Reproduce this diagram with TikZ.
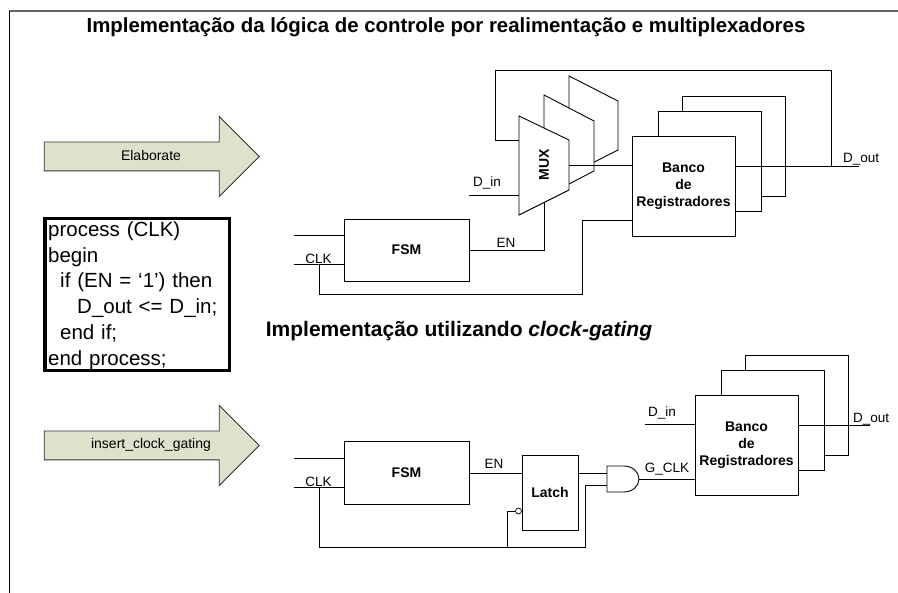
\documentclass[tikz,border=0pt]{standalone}
\usepackage{fontspec}
\setmainfont{Liberation Sans}
\usetikzlibrary{shapes.arrows}

\tikzset{
  wire/.style={line width=0.9pt},
  caixa/.style={draw, line width=0.9pt, fill=white, minimum width=103pt, minimum height=100pt, inner sep=0pt},
  bloco/.style={draw, line width=0.9pt, fill=white, inner sep=0pt, font=\fontsize{14}{17}\selectfont\bfseries, align=center},
  sinal/.style={inner sep=0pt, font=\fontsize{13.5}{16}\selectfont},
  seta/.style={single arrow, draw=black!80, line width=0.8pt, fill=seta, single arrow head extend=25.5pt, single arrow tip angle=90, minimum width=79pt, minimum height=215pt, inner xsep=0pt, inner ysep=8pt, text height=9pt, text depth=3pt},
  rotulo/.style={inner sep=0pt, font=\fontsize{14}{16}\selectfont},
  titulo/.style={inner sep=0pt, font=\fontsize{20.4}{24}\selectfont\bfseries}
}
\definecolor{seta}{HTML}{DDE2CD}

\begin{document}
\begin{tikzpicture}[x=1pt,y=-1pt]
  \useasboundingbox (0,0) rectangle (898,593);
  \fill[white] (0,0) rectangle (898,593);

  % Margin
  \coordinate (margemA) at (9,11);
  \coordinate (margemB) at (9,593);
  \coordinate (margemC) at (898,11);
  \draw[line width=1.2pt, black!60] (margemA) -- (margemC);
  \draw[wire] (margemA) -- (margemB);

  % Titles
  \node[titulo] (tituloA) at (446,27) {Implementação da lógica de controle por realimentação e multiplexadores};
  \node[titulo, font=\fontsize{21}{24}\selectfont\bfseries] (tituloB) at (459,331) {Implementação utilizando \textit{clock-gating}};

  % Arrows
  \node[seta] (setaA) at (144.5,156.5) {};
  \node[seta] (setaB) at (144.5,445.5) {};
  \node[rotulo] (rotuloA) at (151,156) {Elaborate};
  \node[rotulo] (rotuloB) at (151,445) {insert\_clock\_gating};

  % Code
  \node[draw, line width=3.5pt, minimum width=184.5pt, minimum height=152pt, inner sep=0pt, text width=178pt, align=left,
        font=\fontsize{20.5}{25.8}\selectfont] (codigo) at (137.2,294.5)
    {\rule{0pt}{17pt}process (CLK)\\
     begin\\
     \hspace*{12pt}if (EN = ‘1’) then\\
     \hspace*{29pt}D\_out <= D\_in;\\
     \hspace*{12pt}end if;\\
     end process;};

  % Top circuit: mux copies
  \draw[wire, fill=white] (569,76) -- (618,101) -- (618,150) -- (569,175) -- cycle;
  \draw[wire, fill=white] (544,95) -- (594,121) -- (594,171) -- (544,197) -- cycle;
  \draw[wire, fill=white] (519,116) -- (569,140) -- (569,190) -- (519,215) -- cycle;
  \node[sinal, rotate=90, font=\fontsize{14}{17}\selectfont\bfseries] (mux) at (544,165) {MUX};
  \coordinate (muxFb) at (519,140);
  \coordinate (muxIn) at (519,195);
  \coordinate (muxEn) at (544,203);
  \coordinate (muxOut) at (569,165);

  % Top circuit: registers
  \node[caixa] (bancoC) at (733.5,146) {};
  \node[caixa] (bancoB) at (709.5,161) {};
  \node[bloco, minimum width=103pt, minimum height=100pt] (bancoA) at (683.5,186) {Banco\\de\\Registradores};
  \node[bloco, minimum width=125pt, minimum height=62pt] (fsmA) at (406.5,250) {FSM};

  % Top circuit: wires
  \coordinate (dinA) at (469,195);
  \coordinate (topA) at (294,235);
  \coordinate (clkA) at (294,264);
  \coordinate (tapA) at (319,264);
  \coordinate (doutA) at (859,166);
  \coordinate (fbA) at (831,166);
  \draw[wire] (topA) -- (topA -| fsmA.west);
  \draw[wire] (clkA) -- (clkA -| fsmA.west);
  \draw[wire] (fsmA.east) -| (muxEn);
  \draw[wire] (dinA) -- (muxIn);
  \draw[wire] (muxOut) -- (muxOut -| bancoA.west);
  \draw[wire] (doutA -| bancoA.east) -- (doutA);
  \draw[wire] (fbA) -- (831,70) -- (495,70) -- (495,140) -- (muxFb);
  \draw[wire] (tapA) -- (319,294) -- (582,294) -- (582,220) -- (632,220);

  % Top circuit: labels
  \node[sinal, anchor=south west] (lbDinA) at (473,189) {D\_in};
  \node[sinal, anchor=south] (lbEnA) at (506,248) {EN};
  \node[sinal, anchor=south] (lbClkA) at (318.5,264) {CLK};
  \node[sinal, anchor=south west] (lbDoutA) at (843,165) {D\_out};

  % Bottom circuit: registers
  \node[caixa] (bancoF) at (796.5,405) {};
  \node[caixa] (bancoE) at (772.5,420) {};
  \node[bloco, minimum width=103pt, minimum height=100pt] (bancoD) at (746.5,445) {Banco\\de\\Registradores};
  \node[bloco, minimum width=125pt, minimum height=63pt] (fsmB) at (406.5,472.5) {FSM};
  \node[bloco, minimum width=56pt, minimum height=75pt] (latch) at (550,492.5) {Latch};

  % Bottom circuit: gate
  \draw[wire, fill=white] (607,466) -- (624,466) arc[start angle=-90, end angle=90, x radius=15, y radius=13] -- (607,492) -- cycle;
  \coordinate (portaA) at (607,473);
  \coordinate (portaB) at (607,485);
  \coordinate (portaS) at (639,479);

  % Bottom circuit: wires
  \coordinate (topB) at (294,458);
  \coordinate (clkB) at (294,487);
  \coordinate (tapB) at (319,487);
  \coordinate (dinB) at (645,424);
  \coordinate (doutB) at (870,425);
  \coordinate (enB) at (469,473);
  \node[draw, circle, line width=0.7pt, minimum size=6pt, inner sep=0pt] (bolha) at (518.5,511) {};
  \draw[wire] (topB) -- (topB -| fsmB.west);
  \draw[wire] (clkB) -- (clkB -| fsmB.west);
  \draw[wire] (enB) -- (enB -| latch.west);
  \draw[wire] (portaA -| latch.east) -- (portaA);
  \draw[wire] (tapB) -- (319,547) -- (585,547) -- (585,485) -- (portaB);
  \draw[wire] (507,547) -- (507,511) -- (bolha.west);
  \draw[wire] (portaS) -- (portaS -| bancoD.west);
  \draw[wire] (dinB) -- (dinB -| bancoD.west);
  \draw[wire] (doutB -| bancoD.east) -- (doutB);

  % Bottom circuit: labels
  \node[sinal, anchor=south] (lbEnB) at (494,469) {EN};
  \node[sinal, anchor=south] (lbClkB) at (318.5,487) {CLK};
  \node[sinal, anchor=south] (lbGclk) at (667,475) {G\_CLK};
  \node[sinal, anchor=south west] (lbDinB) at (648,419) {D\_in};
  \node[sinal, anchor=south west] (lbDoutB) at (853,425) {D\_out};
\end{tikzpicture}
\end{document}
